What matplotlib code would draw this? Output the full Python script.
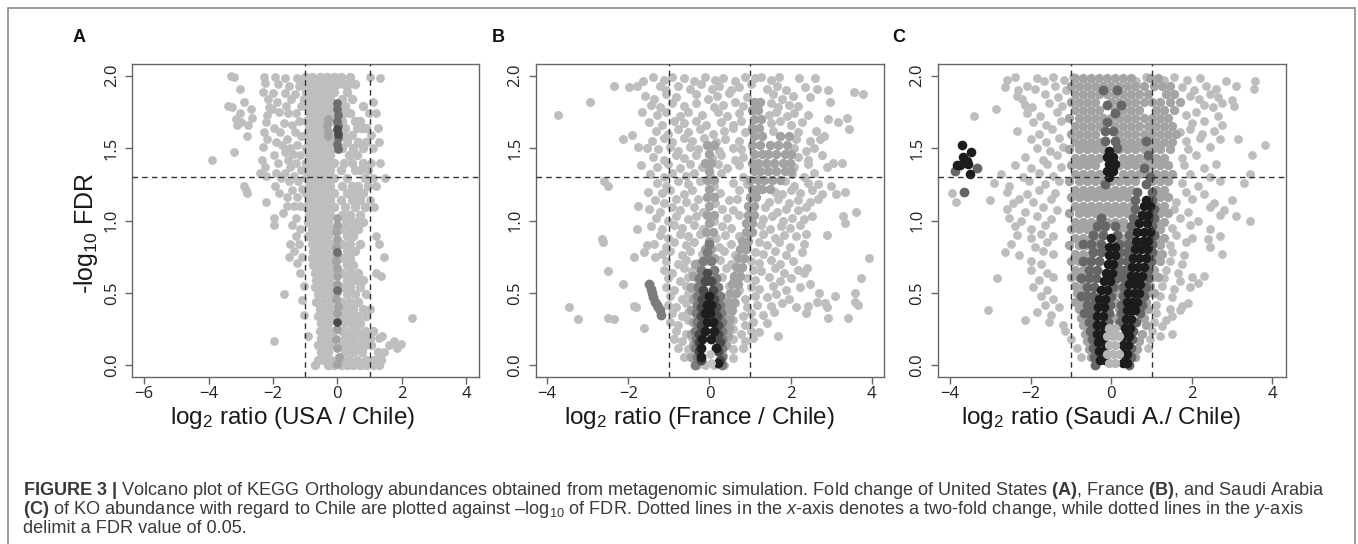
import matplotlib
matplotlib.use("Agg")
import matplotlib.pyplot as plt
from matplotlib.patches import Rectangle

plt.rcParams["font.family"] = ["Liberation Sans", "DejaVu Sans"]
plt.rcParams["mathtext.fontset"] = "custom"
plt.rcParams["mathtext.rm"] = "Liberation Sans"
plt.rcParams["mathtext.it"] = "Liberation Sans:italic"
plt.rcParams["mathtext.bf"] = "Liberation Sans:bold"

# ---- data: x = log2 ratio, y = -log10 FDR ----
# *_PTS are (x, y) points, *_ROWS are (y, [x, ...]) for the dense bands

# Panel A (USA / Chile)
A_LIGHT_PTS = [
    (-3.30, 2.00), (-3.22, 1.99), (-3.02, 1.91), (-2.90, 1.82), (-3.41, 1.79), (-3.26, 1.78),
    (-2.69, 1.77), (-3.04, 1.74), (-3.15, 1.70), (-2.64, 1.71), (-3.12, 1.66), (-3.00, 1.68),
    (-2.79, 1.66), (-2.81, 1.58), (-3.20, 1.47), (-3.90, 1.42), (-2.90, 1.24), (-2.84, 1.21),
    (-2.80, 1.19), (-2.28, 1.99), (-2.24, 1.95), (-2.31, 1.89), (-2.17, 1.84), (-2.13, 1.78),
    (-2.19, 1.73), (-2.22, 1.68), (-2.27, 1.61), (-2.18, 1.56), (-2.31, 1.51), (-2.35, 1.42),
    (-2.25, 1.37), (-2.21, 1.31), (-2.40, 1.33), (-2.23, 1.13), (-1.93, 1.99), (-1.83, 1.94),
    (-1.99, 1.88), (-1.88, 1.82), (-1.81, 1.75), (-2.02, 1.77), (-1.96, 1.64), (-1.79, 1.61),
    (-1.92, 1.54), (-1.72, 1.52), (-1.97, 1.45), (-1.83, 1.40), (-1.91, 1.33), (-1.76, 1.29),
    (-1.95, 1.24), (-1.81, 1.19), (-1.70, 1.05), (-1.58, 1.10), (-1.97, 1.02), (-1.96, 0.97),
    (-1.62, 1.98), (-1.49, 1.93), (-1.64, 1.88), (-1.44, 1.84), (-1.59, 1.79), (-1.52, 1.74),
    (-1.66, 1.67), (-1.41, 1.66), (-1.56, 1.56), (-1.46, 1.50), (-1.62, 1.47), (-1.38, 1.46),
    (-1.54, 1.42), (-1.47, 1.37), (-1.63, 1.33), (-1.34, 1.31), (-1.51, 1.27), (-1.41, 1.21),
    (-1.56, 1.16), (-1.36, 1.10), (-1.26, 1.98), (-1.19, 1.93), (-1.31, 1.87), (-1.14, 1.79),
    (-1.27, 1.74), (-1.18, 1.69), (-1.31, 1.61), (-1.13, 1.58), (-1.24, 1.52), (-1.17, 1.45),
    (-1.29, 1.40), (-1.14, 1.35), (-1.23, 1.27), (-1.11, 1.22), (-1.26, 1.16), (-1.15, 1.10),
    (-1.30, 1.02), (-1.41, 0.97), (-1.29, 0.89), (-1.15, 0.94), (-1.46, 0.84), (-1.19, 0.84),
    (-1.35, 0.79), (-1.50, 0.75), (-1.10, 0.75), (-1.25, 0.71), (-1.15, 0.64), (-1.05, 0.55),
    (-1.66, 0.49), (-1.10, 0.45), (-1.05, 0.35), (-0.90, 0.20), (-1.97, 0.17),
    (1.02, 1.99), (1.33, 1.98), (1.12, 1.82), (0.98, 1.74), (1.20, 1.74), (1.25, 1.64),
    (1.05, 1.59), (1.30, 1.54), (1.10, 1.50), (1.33, 1.40), (1.05, 1.40), (1.49, 1.29),
    (1.10, 1.29), (1.20, 1.24), (1.00, 1.14), (1.15, 1.09), (1.20, 0.89), (1.30, 0.84),
    (1.45, 0.75), (1.20, 0.64), (1.35, 0.62), (1.00, 0.39), (2.33, 0.33), (1.40, 0.20),
    (1.30, 0.19), (1.75, 0.17), (1.99, 0.15), (1.60, 0.14), (1.85, 0.12), (1.45, 0.09),
]
A_LIGHT_ROWS = [
    (1.99, [-1.00, -0.78, -0.55, -0.33, -0.10, 0.12, 0.38]),
    (1.94, [-1.08, -0.88, -0.66, -0.44, -0.22, 0.00, 0.20, 0.35, 0.55]),
    (1.89, [-0.98, -0.77, -0.55, -0.33, -0.11, 0.30]),
    (1.84, [-1.05, -0.88, -0.66, -0.44, -0.22, 0.15, 0.45]),
    (1.79, [-0.98, -0.77, -0.55, -0.33, -0.12, 0.25, 0.80]),
    (1.74, [-0.88, -0.66, -0.44, -0.22, 0.20, 0.40]),
    (1.69, [-0.98, -0.77, -0.55, -0.33, -0.12, 0.15, 0.55, 0.70]),
    (1.64, [-0.88, -0.66, -0.44, 0.25, 0.60, 0.78, 0.90]),
    (1.59, [-0.98, -0.77, -0.55, -0.12, 0.18, 0.45]),
    (1.54, [-0.88, -0.66, -0.44, -0.22, 0.30, 0.65, 0.90]),
    (1.50, [-0.98, -0.77, -0.55, -0.33, -0.12, 0.15, 0.50, 0.80]),
    (1.45, [-0.88, -0.66, -0.44, -0.22, 0.35, 0.60]),
    (1.40, [-0.98, -0.77, -0.55, -0.33, -0.12, 0.20, 0.45, 0.80]),
    (1.35, [-0.88, -0.66, -0.44, -0.22, 0.10, 0.55, 0.70, 0.95]),
    (1.29, [-0.98, -0.77, -0.55, -0.33, -0.12, 0.30, 0.85]),
    (1.24, [-0.88, -0.66, -0.44, -0.22, 0.15, 0.45, 0.65, 0.95]),
    (1.19, [-0.98, -0.77, -0.55, -0.33, -0.12, 0.30, 0.55, 0.80]),
    (1.14, [-0.88, -0.66, -0.44, -0.22, 0.10, 0.45, 0.70]),
    (1.09, [-0.98, -0.77, -0.55, -0.33, -0.12, 0.25, 0.55, 0.85]),
    (1.04, [-0.88, -0.66, -0.44, -0.22, 0.15, 0.40, 0.70]),
    (0.99, [-0.90, -0.70, -0.50, -0.30, 0.28, 0.55, 0.80]),
    (0.94, [-0.80, -0.60, -0.40, -0.20, 0.15, 0.40, 0.65]),
    (0.89, [-0.90, -0.70, -0.50, -0.30, 0.30, 0.50]),
    (0.84, [-0.80, -0.60, -0.40, -0.20, 0.15, 0.40, 0.70]),
    (0.79, [-0.75, -0.55, -0.35, -0.15, 0.30, 0.55]),
    (0.74, [-0.80, -0.60, -0.40, -0.20, 0.15, 0.40]),
    (0.69, [-0.75, -0.55, -0.35, -0.15, 0.30, 0.50]),
    (0.64, [-0.70, -0.50, -0.30, -0.10, 0.15, 0.40, 0.65]),
    (0.59, [-0.65, -0.45, -0.25, 0.30, 0.55, 0.80]),
    (0.54, [-0.70, -0.50, -0.30, -0.10, 0.15, 0.40, 0.70]),
    (0.49, [-0.60, -0.40, -0.20, 0.30, 0.55, 0.90]),
    (0.44, [-0.65, -0.45, -0.25, 0.15, 0.40, 0.65]),
    (0.39, [-0.55, -0.35, -0.15, 0.25, 0.50, 0.80]),
    (0.34, [-0.60, -0.40, -0.20, 0.15, 0.40, 0.60, 0.90]),
    (0.29, [-0.50, -0.30, 0.25, 0.50, 0.70]),
    (0.24, [-0.55, -0.35, -0.15, 0.15, 0.40, 0.60, 0.85, 1.10]),
    (0.19, [-0.50, -0.30, 0.25, 0.50, 0.75, 1.00]),
    (0.14, [-0.60, -0.40, -0.20, 0.15, 0.40, 0.60, 0.85, 1.05]),
    (0.09, [-0.50, -0.30, 0.25, 0.50, 0.75, 1.25]),
    (0.04, [-0.60, -0.40, -0.20, 0.10, 0.35, 0.60, 0.90, 1.15, 1.35]),
    (0.00, [-0.70, -0.30, -0.10, 0.10, 0.30, 0.50, 0.70, 0.90, 1.10, 1.30]),
]
A_MID_PTS = [
    (-0.30, 1.70), (-0.32, 1.66), (-0.30, 1.62), (-0.28, 1.58), (-0.02, 1.02), (0.00, 0.97),
    (-0.03, 0.92), (0.00, 0.87), (-0.03, 0.82), (0.00, 0.77), (-0.05, 0.72), (0.00, 0.67),
    (-0.02, 0.62), (0.00, 0.56), (0.00, 0.51), (-0.03, 0.46), (0.02, 0.41), (0.00, 0.36),
    (0.00, 0.25), (-0.05, 0.18), (0.00, 0.12), (0.05, 0.06), (-0.02, 0.01),
]
A_DARK_PTS = [
    (0.00, 1.81), (0.00, 1.77), (0.02, 1.73), (0.00, 1.69), (0.02, 1.65), (0.02, 1.57),
    (0.00, 1.53), (0.01, 1.49), (0.00, 0.78), (0.00, 0.52),
]
A_BLACK_PTS = [(0.00, 1.63), (0.01, 1.60), (0.00, 0.30)]

# Panel B (France / Chile)
B_LIGHT_PTS = [
    (-1.63, 1.96), (-1.38, 1.99), (-1.12, 1.97), (-0.93, 1.99), (-0.62, 1.98), (-0.37, 1.96),
    (-0.12, 1.99), (0.13, 1.97), (0.33, 1.98), (0.62, 1.96), (0.88, 1.99), (1.12, 1.98),
    (1.28, 1.99), (1.52, 1.97), (1.72, 1.99), (2.21, 1.98), (2.59, 1.98),
    (-2.36, 1.93), (-1.79, 1.93), (-1.99, 1.92), (-1.22, 1.93), (-1.07, 1.90), (-0.78, 1.93),
    (-0.47, 1.91), (-0.22, 1.94), (0.07, 1.91), (0.23, 1.93), (0.52, 1.90), (0.73, 1.92),
    (1.02, 1.94), (1.43, 1.91), (1.67, 1.93), (1.88, 1.90), (2.35, 1.92), (2.64, 1.91),
    (2.92, 1.90), (3.55, 1.89), (3.78, 1.87),
    (-1.58, 1.86), (-1.37, 1.84), (-1.08, 1.87), (-0.83, 1.85), (-0.32, 1.87), (-0.03, 1.84),
    (0.18, 1.86), (0.47, 1.88), (0.93, 1.85), (1.57, 1.87), (1.78, 1.84), (2.07, 1.86),
    (2.48, 1.85), (-2.95, 1.82), (2.97, 1.82),
    (-1.43, 1.80), (-1.22, 1.78), (-0.93, 1.81), (-0.62, 1.79), (-0.33, 1.81), (0.12, 1.78),
    (0.33, 1.80), (0.62, 1.82), (0.83, 1.79), (1.52, 1.81), (1.68, 1.78), (1.97, 1.80),
    (2.18, 1.79),
    (-1.67, 1.75), (-1.28, 1.73), (-1.07, 1.75), (-0.73, 1.72), (-0.52, 1.75), (-0.18, 1.73),
    (0.22, 1.75), (0.43, 1.72), (0.72, 1.74), (1.47, 1.73), (1.63, 1.75), (1.92, 1.72),
    (2.08, 1.74), (2.42, 1.73), (-3.72, 1.73), (3.38, 1.71), (2.91, 1.70),
    (-1.48, 1.68), (-1.17, 1.66), (-0.88, 1.69), (-0.62, 1.67), (-0.33, 1.69), (-0.08, 1.66),
    (0.28, 1.68), (0.57, 1.66), (0.78, 1.69), (1.52, 1.67), (1.73, 1.69), (2.02, 1.66),
    (2.28, 1.68), (3.16, 1.68), (3.45, 1.63),
    (-1.32, 1.62), (-1.03, 1.60), (-0.78, 1.63), (-0.52, 1.61), (-0.23, 1.63), (0.08, 1.60),
    (0.37, 1.62), (0.58, 1.64), (0.87, 1.61), (1.57, 1.62), (2.18, 1.61), (2.62, 1.62),
    (-1.91, 1.59), (2.81, 1.58),
    (-2.14, 1.56), (-1.42, 1.55), (-1.13, 1.57), (-0.92, 1.54), (-0.63, 1.57), (-0.42, 1.55),
    (-0.13, 1.57), (0.17, 1.54), (0.38, 1.56), (0.72, 1.55), (2.13, 1.56), (2.47, 1.55),
    (2.73, 1.56), (-1.75, 1.51),
    (-1.53, 1.50), (-1.27, 1.49), (-0.98, 1.51), (-0.77, 1.48), (-0.48, 1.51), (-0.27, 1.49),
    (0.02, 1.51), (0.23, 1.48), (0.57, 1.50), (0.78, 1.49), (2.08, 1.50), (2.37, 1.48),
    (2.58, 1.50),
    (-1.38, 1.44), (-1.12, 1.42), (-0.83, 1.45), (-0.62, 1.43), (-0.33, 1.45), (0.07, 1.43),
    (0.28, 1.45), (0.62, 1.42), (0.83, 1.44), (2.17, 1.44), (2.43, 1.42), (2.77, 1.45),
    (3.05, 1.40), (3.26, 1.40),
    (-1.69, 1.38), (-1.28, 1.37), (-1.02, 1.39), (-0.73, 1.36), (-0.47, 1.39), (-0.18, 1.37),
    (0.22, 1.39), (0.43, 1.36), (0.72, 1.38), (2.08, 1.37), (2.42, 1.39), (2.90, 1.37),
    (-1.47, 1.32), (-1.13, 1.30), (-0.92, 1.33), (-0.58, 1.31), (-0.37, 1.33), (0.02, 1.31),
    (0.28, 1.33), (0.82, 1.30), (2.03, 1.32), (2.32, 1.30), (2.58, 1.33), (-2.59, 1.27),
    (-2.51, 1.24),
    (-1.28, 1.26), (-1.07, 1.24), (-0.78, 1.27), (-0.52, 1.25), (-0.23, 1.27), (0.12, 1.24),
    (0.58, 1.26), (0.92, 1.25), (1.87, 1.27), (2.08, 1.24), (2.42, 1.26), (2.68, 1.25),
    (3.00, 1.24),
    (-1.52, 1.20), (-1.18, 1.19), (-0.97, 1.21), (-0.63, 1.18), (-0.42, 1.21), (0.27, 1.19),
    (0.73, 1.21), (1.62, 1.20), (1.78, 1.18), (2.02, 1.21), (2.23, 1.19), (2.52, 1.21),
    (2.78, 1.18), (3.11, 1.18), (3.33, 1.20),
    (-1.33, 1.14), (-1.12, 1.12), (-0.83, 1.15), (-0.57, 1.13), (-0.28, 1.15), (0.13, 1.12),
    (0.47, 1.14), (0.68, 1.15), (1.47, 1.13), (1.68, 1.15), (1.97, 1.12), (2.18, 1.14),
    (2.47, 1.13), (2.68, 1.15), (-1.75, 1.10),
    (-1.48, 1.08), (-1.22, 1.06), (-0.93, 1.09), (-0.72, 1.07), (-0.38, 1.09), (-0.17, 1.06),
    (0.32, 1.08), (0.58, 1.07), (1.38, 1.09), (1.67, 1.06), (1.88, 1.08), (2.17, 1.07),
    (2.38, 1.09), (3.61, 1.06),
    (-1.32, 1.02), (-1.03, 1.00), (-0.82, 1.03), (-0.53, 1.01), (-0.32, 1.03), (0.12, 1.00),
    (0.43, 1.02), (0.72, 1.04), (1.32, 1.01), (1.53, 1.03), (1.82, 1.00), (2.03, 1.02),
    (2.32, 1.01), (2.53, 1.03), (3.28, 1.03), (3.34, 0.98),
    (-1.43, 0.96), (-1.17, 0.94), (-0.88, 0.97), (-0.67, 0.95), (-0.38, 0.97), (-0.17, 0.94),
    (0.32, 0.96), (0.53, 0.95), (1.27, 0.97), (1.48, 0.94), (1.77, 0.96), (1.98, 0.95),
    (2.22, 0.97), (-1.79, 0.94),
    (-1.23, 0.90), (-1.02, 0.88), (-0.73, 0.91), (-0.52, 0.89), (-0.23, 0.91), (0.17, 0.88),
    (0.38, 0.90), (0.72, 0.89), (1.33, 0.91), (1.62, 0.88), (1.83, 0.90), (2.12, 0.89),
    (2.38, 0.91), (2.89, 0.90), (-2.65, 0.87), (-2.61, 0.85),
    (-1.37, 0.84), (-1.08, 0.82), (-0.87, 0.85), (-0.58, 0.83), (-0.37, 0.85), (0.23, 0.82),
    (0.52, 0.84), (1.22, 0.85), (1.43, 0.83), (1.72, 0.85), (1.98, 0.82), (2.32, 0.84),
    (-1.54, 0.83),
    (-1.62, 0.78), (-1.18, 0.77), (-0.97, 0.79), (-0.68, 0.76), (-0.47, 0.79), (-0.18, 0.77),
    (0.37, 0.79), (0.63, 0.76), (1.12, 0.78), (1.33, 0.77), (1.62, 0.79), (1.88, 0.76),
    (2.27, 0.78), (-1.85, 0.75), (-1.34, 0.75), (3.92, 0.74),
    (-1.07, 0.72), (-0.78, 0.70), (-0.57, 0.73), (-0.28, 0.71), (0.27, 0.73), (0.53, 0.70),
    (1.02, 0.72), (1.23, 0.71), (1.52, 0.73), (1.73, 0.70), (2.07, 0.72), (2.40, 0.67),
    (-1.13, 0.66), (-0.92, 0.64), (-0.63, 0.67), (-0.42, 0.65), (0.42, 0.67), (0.73, 0.64),
    (1.07, 0.66), (1.28, 0.65), (1.62, 0.67), (1.83, 0.64), (2.17, 0.66), (-2.51, 0.65),
    (2.33, 0.64),
    (-1.02, 0.60), (-0.73, 0.58), (-0.52, 0.61), (-0.28, 0.59), (0.32, 0.61), (0.58, 0.58),
    (0.92, 0.60), (1.13, 0.59), (1.47, 0.61), (1.73, 0.58), (2.02, 0.60), (3.74, 0.60),
    (-2.13, 0.56), (2.48, 0.56),
    (-1.08, 0.54), (-0.87, 0.52), (-0.58, 0.55), (-0.42, 0.53), (0.47, 0.55), (0.73, 0.52),
    (1.02, 0.54), (1.23, 0.53), (1.57, 0.55), (1.88, 0.52), (2.22, 0.54), (2.71, 0.50),
    (3.59, 0.50),
    (-0.97, 0.48), (-0.68, 0.46), (-0.52, 0.49), (0.37, 0.47), (0.58, 0.49), (0.87, 0.46),
    (1.13, 0.48), (1.42, 0.47), (1.63, 0.49), (1.97, 0.46), (3.10, 0.48), (2.64, 0.44),
    (2.85, 0.43), (3.59, 0.44),
    (-1.03, 0.42), (-0.82, 0.40), (-0.58, 0.43), (0.42, 0.41), (0.63, 0.43), (0.92, 0.40),
    (1.18, 0.42), (1.52, 0.41), (1.78, 0.43), (2.12, 0.40), (2.42, 0.41), (3.65, 0.42),
    (-1.87, 0.41), (-1.80, 0.40), (-3.47, 0.40), (2.89, 0.40),
    (-0.92, 0.36), (-0.68, 0.34), (-0.52, 0.37), (0.37, 0.35), (0.53, 0.37), (0.82, 0.34),
    (1.03, 0.36), (1.32, 0.35), (1.58, 0.37), (2.38, 0.36), (-2.49, 0.33), (2.92, 0.33),
    (3.42, 0.33), (-3.24, 0.32), (-2.36, 0.32),
    (-0.98, 0.30), (-0.77, 0.28), (-0.53, 0.31), (0.37, 0.29), (0.58, 0.31), (0.87, 0.28),
    (1.08, 0.30), (1.42, 0.29), (-1.62, 0.26),
    (-0.82, 0.24), (-0.58, 0.22), (0.33, 0.23), (0.57, 0.25), (0.78, 0.22), (1.02, 0.24),
    (1.23, 0.23), (1.70, 0.20),
    (-0.88, 0.18), (-0.67, 0.17), (-0.43, 0.19), (0.42, 0.16), (0.58, 0.18), (0.87, 0.17),
    (1.08, 0.19),
    (-0.77, 0.12), (-0.53, 0.11), (0.37, 0.13), (0.58, 0.11), (0.82, 0.12),
    (-0.62, 0.06), (-0.38, 0.05), (0.33, 0.07), (0.57, 0.05),
    (-0.30, 0.00), (-0.10, 0.00), (0.10, 0.00), (0.35, 0.00),
]
B_MID_ROWS = [
    (1.82, [1.10, 1.25]), (1.76, [1.05, 1.20]), (1.70, [1.10, 1.28]),
    (1.64, [1.05, 1.22]), (1.58, [1.10, 1.30, 1.75, 1.95]),
    (1.52, [-0.05, 0.10, 1.05, 1.25, 1.50, 1.70, 1.90]),
    (1.46, [0.00, 1.10, 1.30, 1.45, 1.65, 1.85, 2.00]),
    (1.40, [-0.10, 0.05, 1.05, 1.20, 1.40, 1.60, 1.80, 1.98]),
    (1.34, [0.00, 1.10, 1.25, 1.45, 1.65, 1.85, 2.00]),
    (1.28, [-0.05, 0.10, 1.00, 1.20, 1.35, 1.55, 1.75]),
    (1.22, [0.00, 1.05, 1.20, 1.30, 1.50]),
    (1.16, [-0.05, 0.10, 1.00, 1.15]),
    (1.10, [0.00, 0.95, 1.10]),
    (1.04, [-0.05, 0.10, 0.95, 1.10]),
    (0.98, [0.00, 0.90, 1.05]),
    (0.92, [-0.08, 0.08, 0.90, 1.05]),
    (0.86, [0.00, 0.80, 0.95]),
    (0.80, [-0.10, 0.05, 0.75, 0.90]),
    (0.74, [-0.05, 0.10, 0.70, 0.85]),
    (0.70, [-0.35]),
    (0.68, [0.65, 0.80]),
    (0.62, [-0.40, -0.20, 0.60, 0.75]),
    (0.56, [0.55, 0.70]),
    (0.54, [-0.45, -0.30]),
    (0.50, [0.50, 0.65]),
    (0.46, [-0.40]),
    (0.44, [0.45, 0.60]),
    (0.38, [-0.45, -0.35, 0.40, 0.55]),
    (0.32, [0.35, 0.50]),
    (0.30, [-0.40]),
    (0.26, [0.35, 0.48]),
    (0.22, [-0.45, -0.40]),
    (0.20, [0.30, 0.45]),
    (0.14, [-0.40, 0.30, 0.42]),
    (0.06, [-0.45]),
]
B_DARK_ROWS = [
    (0.56, [-1.50]), (0.53, [-1.45]), (0.50, [-1.42]), (0.47, [-1.38]),
    (0.44, [-1.35]), (0.42, [-1.30]), (0.40, [-1.27]), (0.38, [-1.22]),
    (0.35, [-1.20]),
    (0.84, [0.00]), (0.78, [-0.05]), (0.72, [-0.15, 0.05]), (0.66, [-0.20, 0.10]),
    (0.60, [-0.25, 0.15]), (0.54, [-0.28, 0.20]), (0.48, [-0.30, 0.25]),
    (0.42, [-0.30, 0.25]), (0.36, [-0.32, 0.28]), (0.30, [-0.30, 0.30]),
    (0.24, [-0.35, 0.30]), (0.18, [-0.32, 0.32]), (0.12, [-0.35, 0.30]),
    (0.06, [-0.30, 0.32]), (0.00, [-0.35, 0.30]),
]
B_DARKER_ROWS = [
    (0.64, [-0.05]), (0.58, [-0.12, 0.05]), (0.52, [-0.15, 0.08]),
    (0.46, [-0.18, 0.12]), (0.40, [-0.20, 0.15]), (0.34, [-0.22, 0.18]),
    (0.28, [-0.20, 0.20]), (0.22, [-0.25, 0.20]), (0.16, [-0.25, 0.25]),
    (0.10, [-0.25, 0.22]), (0.04, [-0.22, 0.25]),
]
B_BLACK_ROWS = [
    (0.48, [-0.02]), (0.42, [-0.05, 0.05]), (0.36, [-0.10, 0.02]),
    (0.30, [-0.05, 0.08]), (0.24, [-0.10, 0.10]), (0.18, [-0.18, 0.05]),
    (0.12, [-0.20, 0.15]), (0.06, [-0.22]), (0.02, [0.20]),
]
B_BASE_PTS = [(0.02, 0.08), (0.05, 0.02)]

# Panel C (Saudi A. / Chile)
C_LIGHT_PTS = [
    (-2.60, 1.97), (-2.40, 1.99), (-1.85, 1.98), (-1.68, 1.96), (-1.45, 1.99), (-1.17, 1.97),
    (-0.95, 1.99), (0.62, 1.96), (0.85, 1.99), (1.32, 1.97), (1.55, 1.99), (1.88, 1.97),
    (2.20, 1.98), (2.85, 1.96), (3.10, 1.93), (3.57, 1.96),
    (-2.65, 1.92), (-2.32, 1.90), (-2.10, 1.93), (-1.90, 1.91), (-1.40, 1.93), (-1.12, 1.90),
    (1.75, 1.92), (2.05, 1.90), (2.35, 1.93), (2.60, 1.91), (3.55, 1.91),
    (-2.35, 1.86), (-2.22, 1.84), (-1.65, 1.87), (-1.32, 1.85), (1.95, 1.86), (2.17, 1.84),
    (2.45, 1.87), (2.65, 1.85), (3.00, 1.83),
    (-2.15, 1.80), (-1.97, 1.78), (-1.55, 1.81), (-1.22, 1.79), (2.30, 1.80), (2.52, 1.78),
    (2.75, 1.81), (3.05, 1.79), (-2.86, 1.77),
    (-2.10, 1.74), (-1.77, 1.72), (-1.35, 1.75), (1.85, 1.73), (2.10, 1.75), (2.65, 1.72),
    (-3.41, 1.72),
    (-1.95, 1.68), (-1.62, 1.66), (-1.25, 1.69), (2.00, 1.67), (2.30, 1.69), (2.75, 1.66),
    (-2.35, 1.62), (-1.80, 1.60), (-1.47, 1.63), (1.70, 1.61), (1.95, 1.63), (2.25, 1.60),
    (2.55, 1.62),
    (-2.00, 1.56), (-1.63, 1.54), (-1.30, 1.57), (1.85, 1.55), (2.20, 1.57), (2.70, 1.56),
    (3.15, 1.56), (3.82, 1.52),
    (-1.85, 1.50), (-1.52, 1.48), (-1.20, 1.51), (1.90, 1.49), (2.45, 1.51),
    (-2.15, 1.44), (-1.70, 1.42), (-1.35, 1.45), (1.75, 1.43), (2.10, 1.45), (3.50, 1.45),
    (-2.40, 1.38), (-2.00, 1.36), (-1.60, 1.39), (-1.25, 1.37), (1.80, 1.38), (2.30, 1.36),
    (2.60, 1.39),
    (-2.75, 1.32), (-2.20, 1.30), (-1.80, 1.33), (-1.45, 1.31), (1.95, 1.32), (2.45, 1.30),
    (3.45, 1.32),
    (-2.90, 1.26), (-2.55, 1.24), (-2.05, 1.27), (-1.65, 1.25), (-1.30, 1.27), (1.75, 1.26),
    (2.15, 1.24), (2.70, 1.27), (3.30, 1.26),
    (-2.60, 1.20), (-2.10, 1.18), (-1.80, 1.21), (-1.40, 1.19), (1.85, 1.20), (2.30, 1.18),
    (-3.96, 1.19),
    (-3.00, 1.14), (-2.45, 1.12), (-2.30, 1.15), (-1.95, 1.13), (-1.50, 1.15), (1.60, 1.13),
    (2.00, 1.15), (2.55, 1.12), (3.00, 1.14), (-3.85, 1.13),
    (-2.60, 1.08), (-2.15, 1.06), (-1.70, 1.09), (-1.35, 1.07), (1.55, 1.08), (1.90, 1.06),
    (2.45, 1.09), (2.80, 1.07),
    (-2.55, 1.02), (-2.25, 1.00), (-1.85, 1.03), (-1.50, 1.01), (1.70, 1.02), (2.15, 1.00),
    (2.70, 1.04), (3.10, 1.03), (3.45, 1.00),
    (-2.40, 0.96), (-2.00, 0.94), (-1.65, 0.97), (1.50, 0.95), (1.95, 0.97), (2.45, 0.94),
    (-2.35, 0.90), (-2.00, 0.88), (-1.75, 0.91), (-1.45, 0.89), (1.60, 0.90), (2.00, 0.88),
    (2.40, 0.87), (2.70, 0.89),
    (-2.50, 0.84), (-1.90, 0.82), (-1.60, 0.85), (1.45, 0.83), (1.85, 0.85), (2.45, 0.82),
    (-2.65, 0.78), (-2.30, 0.76), (-1.70, 0.79), (-1.45, 0.77), (1.50, 0.78), (1.80, 0.76),
    (2.75, 0.77),
    (-2.00, 0.72), (-1.75, 0.70), (1.45, 0.72), (1.75, 0.70),
    (-2.00, 0.66), (-1.60, 0.64), (1.35, 0.66), (1.65, 0.64),
    (-2.85, 0.60), (-1.80, 0.59), (-1.45, 0.61), (1.30, 0.60), (1.70, 0.58), (2.00, 0.61),
    (2.30, 0.62),
    (-1.95, 0.54), (-1.60, 0.52), (1.25, 0.55), (1.55, 0.53), (1.95, 0.54), (2.15, 0.57),
    (-1.75, 0.48), (-1.45, 0.46), (1.20, 0.48), (1.50, 0.47),
    (-1.65, 0.42), (-1.30, 0.40), (1.10, 0.42), (1.45, 0.39), (1.75, 0.41), (1.90, 0.43),
    (-3.05, 0.38), (-1.84, 0.37), (-1.50, 0.35), (1.10, 0.36), (1.50, 0.34), (1.70, 0.38),
    (-2.14, 0.31), (-1.55, 0.30), (-1.20, 0.28), (1.05, 0.30), (1.35, 0.31),
    (-1.15, 0.24), (1.00, 0.24), (1.25, 0.27), (1.50, 0.22),
    (-1.00, 0.18), (0.95, 0.18), (1.20, 0.20),
    (-0.85, 0.12), (0.90, 0.12), (-0.75, 0.06),
]
C_MID_ROWS = [
    (1.98, [-0.90, -0.70, -0.50, -0.30, -0.10, 0.10, 0.30, 0.50, 0.95, 1.15]),
    (1.93, [-1.00, -0.80, -0.60, -0.40, -0.20, 0.00, 0.20, 0.40, 0.60, 0.80, 1.05, 1.25, 1.45]),
    (1.87, [-0.90, -0.70, -0.50, -0.30, -0.10, 0.10, 0.30, 0.50, 0.70, 0.90, 1.35, 1.55]),
    (1.82, [-1.00, -0.80, -0.60, -0.40, 0.00, 0.20, 0.40, 0.60, 0.80, 1.00, 1.20, 1.45, 1.70]),
    (1.76, [-0.90, -0.70, -0.50, -0.30, 0.10, 0.30, 0.50, 0.70, 1.10, 1.30, 1.55]),
    (1.71, [-1.05, -0.80, -0.60, -0.40, -0.20, 0.00, 0.20, 0.40, 0.60, 0.80, 1.00, 1.20, 1.40]),
    (1.65, [-0.90, -0.70, -0.50, -0.30, 0.10, 0.30, 0.50, 0.70, 0.90, 1.10, 1.30, 1.50]),
    (1.60, [-1.00, -0.80, -0.60, -0.40, 0.20, 0.40, 0.60, 0.80, 1.00, 1.20, 1.40, 1.60]),
    (1.54, [-0.90, -0.70, -0.50, -0.30, 0.30, 0.50, 0.70, 0.90, 1.10, 1.30, 1.50]),
    (1.49, [-1.05, -0.80, -0.60, -0.40, -0.20, 0.20, 0.40, 0.60, 0.80, 1.00, 1.20, 1.45]),
    (1.43, [-0.90, -0.70, -0.50, -0.30, 0.30, 0.50, 0.70, 0.90, 1.10, 1.30]),
    (1.38, [-1.00, -0.80, -0.60, -0.40, 0.20, 0.40, 0.60, 0.80, 1.00, 1.20, 1.40]),
    (1.32, [-0.90, -0.70, -0.50, -0.30, 0.30, 0.50, 0.70, 0.90, 1.10, 1.30, 1.50]),
    (1.27, [-1.05, -0.80, -0.60, -0.40, -0.20, 0.00, 0.20, 0.40, 0.60, 1.00, 1.20, 1.40]),
    (1.21, [-0.90, -0.70, -0.50, -0.30, -0.10, 0.10, 0.30, 0.50, 1.10, 1.30]),
    (1.16, [-1.00, -0.80, -0.60, -0.40, -0.20, 0.00, 0.20, 0.40, 1.00, 1.20, 1.40]),
    (1.10, [-0.90, -0.70, -0.50, -0.30, -0.10, 0.10, 0.30, 0.50, 1.10, 1.30]),
    (1.05, [-1.05, -0.80, -0.60, -0.40, -0.20, 0.00, 0.20, 0.40, 1.00, 1.20, 1.40]),
    (0.99, [-0.90, -0.70, -0.50, -0.30, -0.10, 0.10, 0.30, 1.10, 1.30]),
    (0.94, [-1.00, -0.80, -0.60, -0.40, -0.20, 0.20, 0.40, 1.00, 1.20]),
    (0.88, [-0.90, -0.70, -0.50, -0.30, 0.30, 1.10, 1.30]),
    (0.83, [-1.05, -0.80, -0.60, -0.40, 0.20, 0.40, 1.00, 1.20]),
    (0.77, [-0.90, -0.70, -0.50, 0.30, 1.10, 1.25]),
    (0.72, [-1.00, -0.80, -0.60, 0.20, 1.00, 1.20]),
    (0.66, [-0.90, -0.70, -0.50, 0.10, 0.30, 1.05]),
    (0.61, [-1.00, -0.80, -0.60, 0.20, 1.00, 1.15]),
    (0.55, [-0.90, -0.70, 0.10, 0.30, 0.95]),
    (0.50, [-0.85, -0.65, 0.20, 0.90, 1.05]),
    (0.44, [-0.90, -0.70, 0.10, 0.30, 0.85]),
    (0.39, [-0.80, -0.60, 0.20, 0.90]),
    (0.33, [-0.75, 0.10, 0.30, 0.80]),
    (0.28, [-0.70, 0.20, 0.85]),
    (0.22, [-0.65, 0.75]),
    (0.17, [-0.60, 0.70]),
    (0.11, [-0.55, 0.65]),
    (0.06, [-0.50, 0.60]),
]
C_DARK_ROWS = [
    (1.90, [-0.20, 0.15]), (1.80, [-0.10, 0.25]), (1.74, [0.10]), (1.68, [-0.10]),
    (1.62, [-0.15, 0.05]), (1.55, [-0.15, 0.10, 0.85]), (1.50, [0.15]),
    (1.45, [0.90]), (1.36, [-3.34, 0.80]), (1.34, [-3.88]), (1.30, [0.95]),
    (1.25, [-0.15, 0.85]), (1.20, [-3.65, 0.65, 1.00]),
    (1.14, [0.60, 1.00]), (1.08, [0.60, 1.05]), (1.02, [-0.25, 0.55, 1.05]),
    (0.96, [-0.35, -0.15, 0.10, 0.50, 1.02]),
    (0.90, [-0.45, -0.20, 0.15, 0.45, 1.05]),
    (0.84, [-0.70, -0.50, -0.25, 0.20, 0.42, 1.02]),
    (0.78, [-0.45, -0.25, 0.22, 0.40, 1.00]),
    (0.72, [-0.70, -0.50, -0.30, 0.20, 0.38, 0.98]),
    (0.66, [-0.55, -0.35, 0.18, 0.35, 0.92]),
    (0.60, [-0.75, -0.55, -0.38, 0.15, 0.32, 0.90]),
    (0.54, [-0.60, -0.42, 0.05, 0.30, 0.85]),
    (0.48, [-0.75, -0.60, -0.45, 0.00, 0.28, 0.80]),
    (0.42, [-0.60, -0.48, -0.02, 0.25, 0.75]),
    (0.36, [-0.68, -0.58, -0.48, -0.05, 0.25, 0.72]),
    (0.30, [-0.55, -0.48, -0.08, 0.22, 0.62]),
    (0.24, [-0.52, -0.45, 0.55]),
    (0.18, [-0.48, 0.52]),
    (0.12, [-0.45, 0.50]),
    (0.06, [-0.42, 0.48]),
    (0.00, [-0.40, 0.45]),
]
C_BLACK_ROWS = [
    (1.52, [-3.71]), (1.47, [-3.49]), (1.44, [-3.67]), (1.41, [-3.59]),
    (1.39, [-3.55]), (1.38, [-3.75, -3.82]), (1.32, [-3.51]),
    (1.48, [-0.05]), (1.44, [-0.10, 0.05]), (1.39, [-0.05, 0.10]),
    (1.34, [-0.10, 0.05]), (1.30, [-0.05]),
    (1.14, [0.85]), (1.10, [0.80, 0.95]), (1.04, [0.75, 0.92]),
    (0.98, [0.70, 0.88]), (0.92, [0.65, 0.82, 0.95]), (0.86, [0.62, 0.78, 0.92]),
    (0.80, [0.58, 0.74, 0.88]), (0.74, [0.55, 0.70, 0.85]), (0.68, [0.52, 0.66, 0.80]),
    (0.62, [0.48, 0.62, 0.76]), (0.56, [0.45, 0.60, 0.72]), (0.50, [0.42, 0.56, 0.68]),
    (0.44, [0.40, 0.52, 0.64]), (0.38, [0.38, 0.50, 0.60]), (0.32, [0.36, 0.48]),
    (0.26, [0.34, 0.46]), (0.20, [0.32, 0.44]), (0.14, [0.30, 0.42]),
    (0.08, [0.30, 0.40]), (0.02, [0.28, 0.38]),
    (0.88, [0.00]), (0.82, [-0.05, 0.08]), (0.76, [-0.05, 0.08]),
    (0.70, [-0.08, 0.05]), (0.64, [-0.12, 0.02]), (0.58, [-0.18, -0.02]),
    (0.52, [-0.25, -0.10]), (0.46, [-0.30, -0.15]), (0.40, [-0.32, -0.18]),
    (0.34, [-0.35, -0.20]), (0.28, [-0.35, -0.22]), (0.22, [-0.35, -0.22]),
    (0.16, [-0.32, -0.20]), (0.10, [-0.30, -0.18]), (0.04, [-0.28, -0.16]),
]
C_BASE_ROWS = [
    (0.26, [-0.05, 0.10]), (0.20, [-0.10, 0.05, 0.18]), (0.14, [-0.05, 0.10]),
    (0.08, [-0.10, 0.05, 0.18]), (0.02, [-0.05, 0.10]),
]

PANEL_LETTERS = ["A", "B", "C"]
X_LABELS = [r"log$_2$ ratio (USA / Chile)", r"log$_2$ ratio (France / Chile)",
            r"log$_2$ ratio (Saudi A./ Chile)"]
X_TICKS = [[-6, -4, -2, 0, 2, 4], [-4, -2, 0, 2, 4], [-4, -2, 0, 2, 4]]
Y_TICKS = [0.0, 0.5, 1.0, 1.5, 2.0]
FC_CUT = [-1, 1]
FDR_CUT = 1.3

CAPTION = [
    r"$\mathbf{FIGURE\ 3\ |}$ Volcano plot of KEGG Orthology abundances obtained from metagenomic "
    r"simulation. Fold change of United States $\mathbf{(A)}$, France $\mathbf{(B)}$, and Saudi Arabia",
    r"$\mathbf{(C)}$ of KO abundance with regard to Chile are plotted against " + "\u2013" +
    r"log$_{10}$ of FDR. Dotted lines in the $\mathit{x}$-axis denotes a two-fold change, "
    r"while dotted lines in the $\mathit{y}$-axis",
    "delimit a FDR value of 0.05.",
]

W, H = 1358, 544
AX_SPANS = [(132, 479), (535.7, 884), (937.7, 1285.7)]
XLIMS = [(-6.38, 4.40), (-4.28, 4.30), (-4.31, 4.33)]
LABEL_CX = [293, 699, 1101]
LETTER_X = [73, 492, 892]

# (points, rows, colour, marker size)
LAYERS = [
    [(A_LIGHT_PTS, None, "#bebebe", 40), (None, A_LIGHT_ROWS, "#bebebe", 46),
     (A_MID_PTS, None, "#a3a3a3", 40), (A_DARK_PTS, None, "#6e6e6e", 40),
     (A_BLACK_PTS, None, "#4a4a4a", 40)],
    [(B_LIGHT_PTS, None, "#bebebe", 42), (None, B_MID_ROWS, "#a2a2a2", 46),
     (None, B_DARK_ROWS, "#7c7c7c", 50), (None, B_DARKER_ROWS, "#4b4b4b", 50),
     (None, B_BLACK_ROWS, "#1e1e1e", 50), (B_BASE_PTS, None, "#c2c2c2", 40)],
    [(C_LIGHT_PTS, None, "#bdbdbd", 40), (None, C_MID_ROWS, "#a4a4a4", 45),
     (None, C_DARK_ROWS, "#666666", 50), (None, C_BLACK_ROWS, "#1c1c1c", 48),
     (None, C_BASE_ROWS, "#b4b4b4", 44)],
]


def to_xy(pts, rows):
    if pts is not None:
        return [p[0] for p in pts], [p[1] for p in pts]
    xs = [x for y, row in rows for x in row]
    ys = [y for y, row in rows for x in row]
    return xs, ys


def main():
    fig = plt.figure(figsize=(W / 100, H / 100), dpi=100)
    fig.patches.append(Rectangle((8 / W, -0.05), 1347 / W, 1.05 - 8 / H,
                                 transform=fig.transFigure, fill=False,
                                 edgecolor="#8a8a8a", lw=1.2))
    top, bottom = 64, 377
    for i, (left, right) in enumerate(AX_SPANS):
        ax = fig.add_axes([left / W, 1 - bottom / H, (right - left) / W, (bottom - top) / H])
        for pts, rows, color, size in LAYERS[i]:
            xs, ys = to_xy(pts, rows)
            ax.scatter(xs, ys, s=size, c=color, linewidths=0, zorder=2)
        dash = dict(color="#333333", lw=1.0, ls=(0, (4, 3)), zorder=3)
        for xc in FC_CUT:
            ax.axvline(xc, **dash)
        ax.axhline(FDR_CUT, **dash)
        ax.set_xlim(*XLIMS[i])
        ax.set_ylim(-0.08, 2.08)
        ax.set_xticks(X_TICKS[i])
        ax.set_yticks(Y_TICKS)
        ax.set_yticklabels([f"{v:.1f}" for v in Y_TICKS])
        ax.tick_params(direction="out", length=4.8, width=1, color="#666666",
                       labelcolor="#222222", labelsize=12, labelfontfamily="Open Sans")
        ax.tick_params(axis="x", pad=1.5)
        ax.tick_params(axis="y", pad=4)
        for lab in ax.get_yticklabels():
            lab.set_rotation(90)
            lab.set_va("center")
        for sp in ax.spines.values():
            sp.set_color("#666666")
            sp.set_linewidth(1)
        fig.text(LABEL_CX[i] / W, 1 - 424 / H, X_LABELS[i], ha="center", va="baseline",
                 fontsize=17.5, color="#1a1a1a")
        fig.text(LETTER_X[i] / W, 1 - 42 / H, PANEL_LETTERS[i], ha="left", va="baseline",
                 fontsize=13, fontweight="bold", color="#111111")

    fig.text(86 / W, 1 - 233 / H, r"-log$_{10}$ FDR", rotation=90, ha="center", va="center",
             fontsize=18, color="#1a1a1a")

    for k, line in enumerate(CAPTION):
        fig.text(23 / W, 1 - (495 + 19 * k) / H, line, ha="left", va="baseline",
                 fontsize=13.1, color="#3a3a3a")

    fig.savefig("out.png", dpi=100)
    plt.close(fig)


if __name__ == "__main__":
    main()
